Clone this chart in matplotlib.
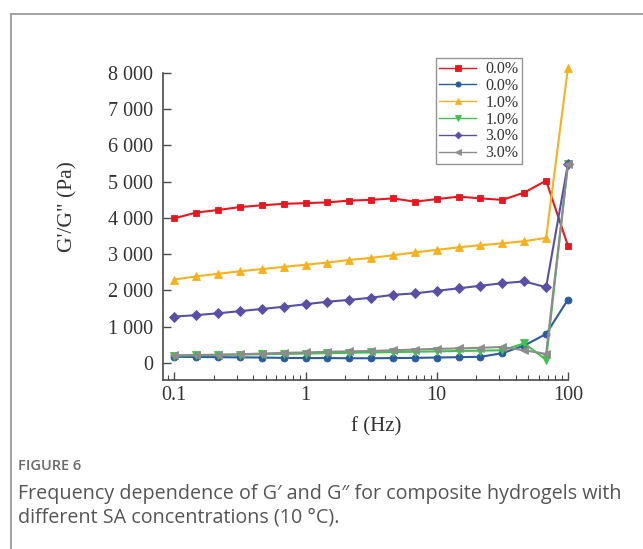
import matplotlib
matplotlib.use("Agg")
import matplotlib.pyplot as plt
from matplotlib.ticker import FixedLocator, FuncFormatter, LogLocator, NullFormatter
from matplotlib.lines import Line2D

# ---- data ----
freq = [0.1, 0.147, 0.215, 0.316, 0.464, 0.681, 1.0, 1.47, 2.15, 3.16,
        4.64, 6.81, 10.0, 14.7, 21.5, 31.6, 46.4, 68.1, 100.0]

red_00 = [3990, 4150, 4220, 4300, 4350, 4390, 4410, 4430, 4480, 4500,
          4540, 4450, 4520, 4590, 4540, 4500, 4700, 5030, 3230]
blue_00 = [170, 165, 160, 155, 150, 140, 135, 135, 130, 130,
           135, 140, 150, 160, 170, 270, 480, 800, 1750]
orange_10 = [2300, 2390, 2460, 2530, 2590, 2650, 2710, 2770, 2840, 2900,
             2970, 3050, 3120, 3190, 3250, 3300, 3360, 3450, 8150]
green_10 = [200, 210, 220, 230, 240, 250, 260, 270, 280, 290,
            300, 310, 320, 330, 340, 350, 540, 90, 5500]
purple_30 = [1280, 1320, 1370, 1430, 1490, 1550, 1620, 1690, 1740, 1800,
             1880, 1920, 1990, 2060, 2130, 2200, 2250, 2090, 5500]
gray_30 = [210, 220, 230, 240, 260, 280, 290, 310, 320, 330,
           350, 370, 390, 400, 420, 440, 350, 250, 5500]

legend_labels = ["0.0%", "0.0%", "1.0%", "1.0%", "3.0%", "3.0%"]
yticks = [0, 1000, 2000, 3000, 4000, 5000, 6000, 7000, 8000]
xticks = [0.1, 1, 10, 100]
xtick_labels = ["0.1", "1", "10", "100"]

series = [
    (red_00, "#e8161e", "s", 5.0),
    (blue_00, "#2b5c9e", "o", 5.0),
    (orange_10, "#f6b11c", "^", 6.0),
    (green_10, "#3fc24a", "v", 6.0),
    (purple_30, "#5a4fa6", "D", 4.6),
    (gray_30, "#8c8c8c", "<", 6.0),
]

W, H = 643, 549
fig = plt.figure(figsize=(W / 100, H / 100), dpi=100)
fig.patch.set_facecolor("white")

# card border (top + left)
fig.add_artist(Line2D([11 / W, 1.0], [1 - 14 / H, 1 - 14 / H], color="#9a9a9a", lw=1.3))
fig.add_artist(Line2D([11 / W, 11 / W], [0.0, 1 - 14 / H], color="#9a9a9a", lw=1.3))

ax = fig.add_axes([163 / W, 1 - 380 / H, 405 / W, 307 / H])
serif = "Liberation Serif"

for (vals, col, mk, ms), lab in zip(series, legend_labels):
    ax.plot(freq, vals, color=col, marker=mk, markersize=ms, lw=1.5,
            markeredgewidth=0.6, markeredgecolor=col, label=lab, clip_on=False)

ax.set_xscale("log")
ax.set_xlim(0.082, 100)
ax.set_ylim(-470, 8000)

for s in ["top", "right"]:
    ax.spines[s].set_visible(False)
for s in ["left", "bottom"]:
    ax.spines[s].set_color("#4a4a4a")
    ax.spines[s].set_linewidth(1.2)

ax.yaxis.set_major_locator(FixedLocator(yticks))
ax.yaxis.set_major_formatter(FuncFormatter(lambda v, p: f"{int(v):,}".replace(",", " ")))
ax.xaxis.set_major_locator(FixedLocator(xticks))
ax.set_xticklabels(xtick_labels)
ax.xaxis.set_minor_locator(LogLocator(base=10, subs=range(2, 10)))
ax.xaxis.set_minor_formatter(NullFormatter())

ax.tick_params(axis="both", which="major", direction="in", length=6, width=1.0,
               color="#4a4a4a", labelcolor="#333333", labelsize=14.5)
ax.tick_params(axis="x", which="minor", direction="in", length=3.5, width=0.8, color="#4a4a4a")
ax.tick_params(axis="y", which="major", pad=7)
ax.tick_params(axis="x", which="major", pad=4)
for lbl in ax.get_xticklabels() + ax.get_yticklabels():
    lbl.set_fontfamily(serif)

fig.text(68 / W, 1 - 207 / H, "G'/G\" (Pa)", rotation=90, ha="center", va="center",
         fontsize=15.5, family=serif, color="#333333")
fig.text(376 / W, 1 - 427 / H, "f (Hz)", ha="center", va="center",
         fontsize=15, family=serif, color="#333333")

leg = ax.legend(loc="upper right", bbox_to_anchor=((522 - 163) / 405, (380 - 58) / 307),
                borderaxespad=0, frameon=True, fancybox=False,
                prop={"family": serif, "size": 11.5}, handlelength=2.3, handletextpad=0.6,
                labelspacing=0.05, borderpad=0.2, markerscale=0.75)
leg.get_frame().set_edgecolor("#7a7a7a")
leg.get_frame().set_linewidth(1.0)
for t in leg.get_texts():
    t.set_color("#333333")
for h in leg.legend_handles:
    h.set_linewidth(1.0)

# caption
fig.text(18 / W, 1 - 466 / H, "FIGURE 6", ha="left", va="center", fontsize=10.5,
         family="Open Sans", color="#6a6a6a", fontweight="semibold")
fig.text(18 / W, 1 - 494 / H, "Frequency dependence of G\u2032 and G\u2033 for composite hydrogels with",
         ha="left", va="center", fontsize=14.2, family="Open Sans", color="#555555")
fig.text(18 / W, 1 - 517 / H, "different SA concentrations (10 \u00b0C).",
         ha="left", va="center", fontsize=14.2, family="Open Sans", color="#555555")

fig.savefig("out.png", dpi=100, facecolor="white")
